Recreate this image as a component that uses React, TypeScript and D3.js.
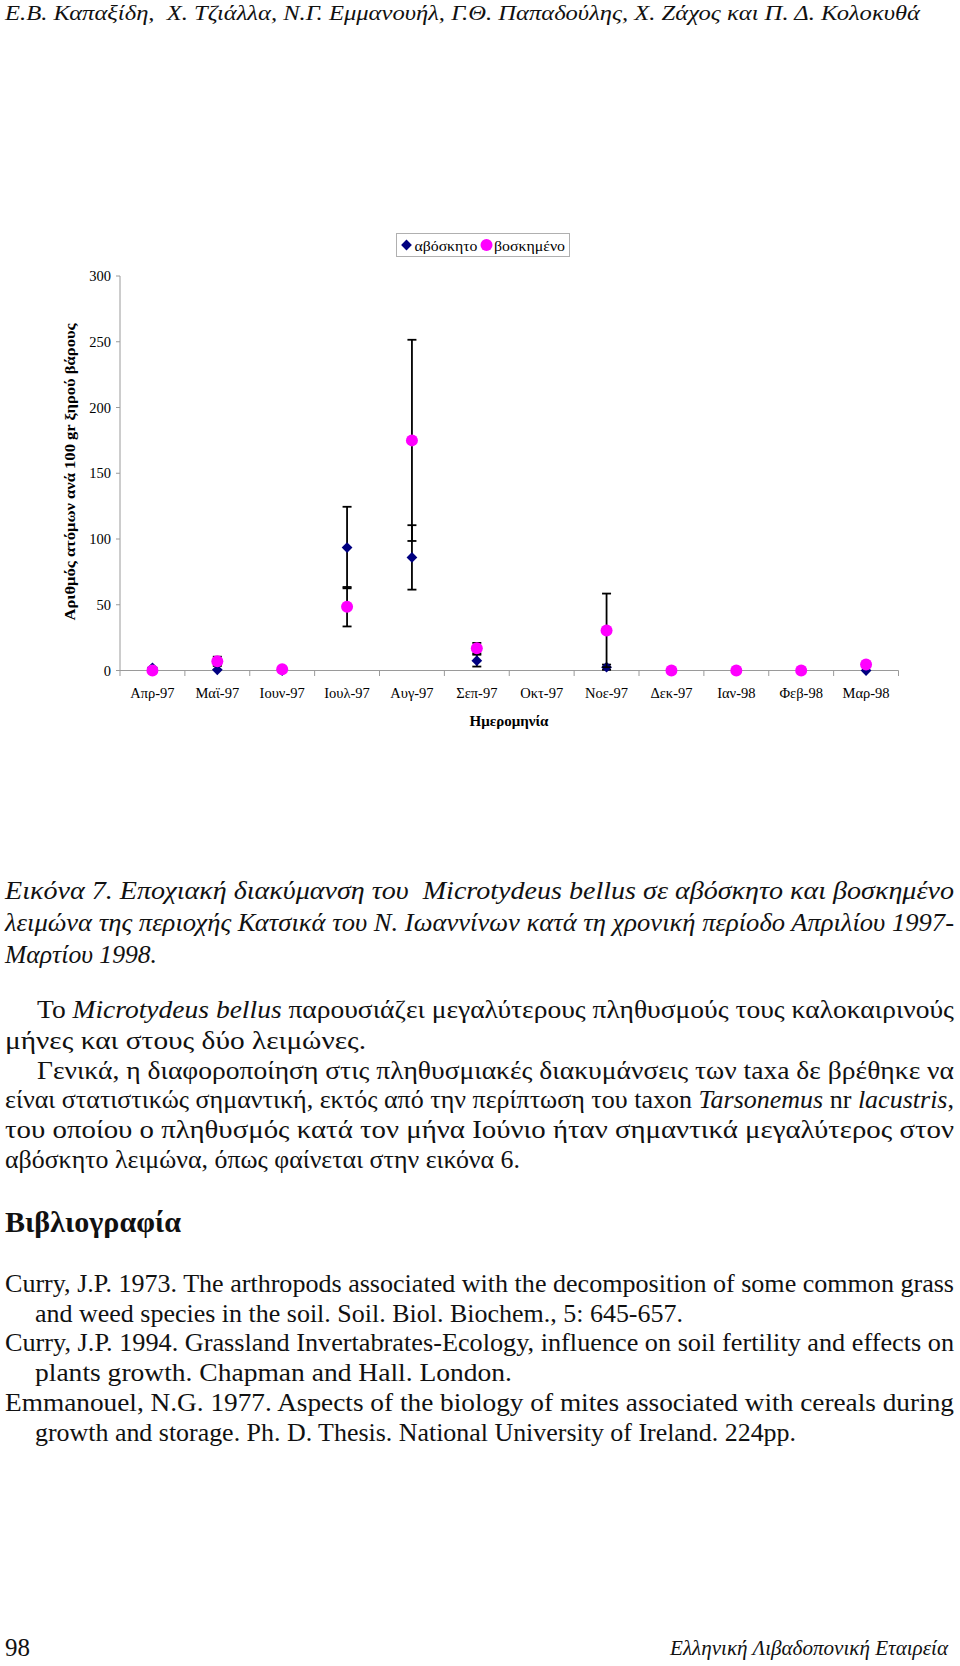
import React from 'react';
import * as d3 from 'd3';

// ---------- chart data ----------
const months = ['Απρ-97', 'Μαϊ-97', 'Ιουν-97', 'Ιουλ-97', 'Αυγ-97', 'Σεπ-97', 'Οκτ-97', 'Νοε-97', 'Δεκ-97', 'Ιαν-98', 'Φεβ-98', 'Μαρ-98'];
const ungrazed: (number | null)[] = [2, 0.5, 0, 93.5, 86, 7.5, null, 2.5, 0, 0, 0, 0];
const ungrazedErr: (number | null)[] = [0, 0, 0, 31, 24.5, 4.5, null, 2, 0, 0, 0, 0];
const grazed: (number | null)[] = [0, 7, 1, 48.5, 175, 17, null, 30.5, 0, 0, 0, 4.5];
const grazedErr: (number | null)[] = [0, 3.5, 0, 15, 76.5, 4, null, 28, 0, 0, 0, 0];
const yTicks = [0, 50, 100, 150, 200, 250, 300];
const seriesNames = ['αβόσκητο', 'βοσκημένο'];

// ---------- page text ----------
type Seg = [string, boolean?];
const headerText = 'Ε.Β. Καπαξίδη,  Χ. Τζιάλλα, Ν.Γ. Εμμανουήλ, Γ.Θ. Παπαδούλης, Χ. Ζάχος και Π. Δ. Κολοκυθά';
const captionLines: Seg[][] = [
  [['Εικόνα 7. Εποχιακή διακύμανση του  Microtydeus bellus σε αβόσκητο και βοσκημένο', true]],
  [['λειμώνα της περιοχής Κατσικά του Ν. Ιωαννίνων κατά τη χρονική περίοδο Απριλίου 1997-', true]],
  [['Μαρτίου 1998.', true]],
];
const paraLines: Seg[][] = [
  [['Το '], ['Microtydeus bellus', true], [' παρουσιάζει μεγαλύτερους πληθυσμούς τους καλοκαιρινούς']],
  [['μήνες και στους δύο λειμώνες.']],
  [['Γενικά, η διαφοροποίηση στις πληθυσμιακές διακυμάνσεις των taxa δε βρέθηκε να']],
  [['είναι στατιστικώς σημαντική, εκτός από την περίπτωση του taxon '], ['Tarsonemus', true], [' nr '], ['lacustris', true], [',']],
  [['του οποίου ο πληθυσμός κατά τον μήνα Ιούνιο ήταν σημαντικά μεγαλύτερος στον']],
  [['αβόσκητο λειμώνα, όπως φαίνεται στην εικόνα 6.']],
];
const bibTitle = 'Βιβλιογραφία';
const refLines = [
  'Curry, J.P. 1973. The arthropods associated with the decomposition of some common grass',
  'and weed species in the soil. Soil. Biol. Biochem., 5: 645-657.',
  'Curry, J.P. 1994. Grassland Invertabrates-Ecology, influence on soil fertility and effects on',
  'plants growth. Chapman and Hall. London.',
  'Emmanouel, N.G. 1977. Aspects of the biology of mites associated with cereals during',
  'growth and storage. Ph. D. Thesis. National University of Ireland. 224pp.',
];
const footerLeft = '98';
const footerRight = 'Ελληνική Λιβαδοπονική Εταιρεία';

const FONT = '"Liberation Serif", "Times New Roman", serif';

function Line({ segs, x, y, w, size = 26, weight = 'normal' }: { segs: Seg[]; x: number; y: number; w: number; size?: number; weight?: string }) {
  return (
    <text x={x} y={y} fontSize={size} fontFamily={FONT} fontWeight={weight} fill="#111" textLength={w} lengthAdjust="spacingAndGlyphs" style={{ whiteSpace: 'pre' }}>
      {segs.map((s, i) => (
        <tspan key={i} fontStyle={s[1] ? 'italic' : 'normal'}>{s[0]}</tspan>
      ))}
    </text>
  );
}

export default function App() {
  const x = d3.scaleBand<string>().domain(months).range([120, 898.5]);
  const y = d3.scaleLinear().domain([0, 300]).range([670.5, 276]);
  const cx = (m: string) => (x(m) as number) + x.bandwidth() / 2;
  const diamond = d3.symbol().type(d3.symbolSquare).size(58)();
  const circle = d3.symbol().type(d3.symbolCircle).size(Math.PI * 36)();
  const axisColor = '#9a9a9a';

  const errBar = (m: string, v: number | null, e: number | null, key: string) => {
    if (v == null || e == null || e <= 0) return null;
    const X = cx(m);
    const top = y(v + e);
    const bot = y(Math.max(0, v - e));
    return (
      <g key={key} stroke="#000" strokeWidth={1.8}>
        <line x1={X} x2={X} y1={top} y2={bot} />
        <line x1={X - 4.5} x2={X + 4.5} y1={top} y2={top} />
        <line x1={X - 4.5} x2={X + 4.5} y1={bot} y2={bot} />
      </g>
    );
  };

  const captionY = [899, 931, 963];
  const paraY = [1018, 1049, 1079, 1108, 1138, 1168];
  const paraX = [37, 5, 37, 5, 5, 5];
  const paraW = [917, 361, 917, 949, 949, 515];
  const refY = [1292, 1322, 1351, 1381, 1411, 1441];
  const refX = [5, 35, 5, 35, 5, 35];
  const refW = [949, 648, 949, 477, 949, 761];

  return (
    <svg width={960} height={1666} style={{ position: 'absolute', left: 0, top: 0, background: '#fff' }}>
      <rect width={960} height={1666} fill="#fff" />
      {/* header */}
      <text x={5} y={20} fontSize={21} fontFamily={FONT} fontStyle="italic" fill="#111" textLength={915} lengthAdjust="spacingAndGlyphs" style={{ whiteSpace: 'pre' }}>{headerText}</text>

      {/* legend */}
      <rect x={396.5} y={233.5} width={173} height={23} fill="#fff" stroke="#b0b0b0" strokeWidth={1} />
      <path d={diamond} transform="translate(406.5,245) rotate(45)" fill="#000080" />
      <text x={414.5} y={250.5} fontSize={15} fontFamily={FONT} fill="#000" textLength={63} lengthAdjust="spacingAndGlyphs">{seriesNames[0]}</text>
      <path d={circle} transform="translate(486.5,245)" fill="#ff00ff" />
      <text x={494} y={250.5} fontSize={15} fontFamily={FONT} fill="#000" textLength={71} lengthAdjust="spacingAndGlyphs">{seriesNames[1]}</text>

      {/* y axis */}
      <line x1={120} x2={120} y1={276} y2={670.5} stroke={axisColor} strokeWidth={1} />
      {yTicks.map((t) => (
        <g key={t}>
          <line x1={116} x2={120} y1={y(t)} y2={y(t)} stroke={axisColor} />
          <text x={111} y={y(t) + 5} fontSize={14.5} fontFamily={FONT} textAnchor="end" fill="#000">{t}</text>
        </g>
      ))}
      {/* x axis */}
      <line x1={120} x2={898.5} y1={670.5} y2={670.5} stroke={axisColor} strokeWidth={1} />
      {months.map((m, i) => (
        <g key={m}>
          <line x1={(x(m) as number) + x.bandwidth()} x2={(x(m) as number) + x.bandwidth()} y1={670.5} y2={676} stroke={axisColor} />
          {i === 0 && <line x1={120} x2={120} y1={670.5} y2={676} stroke={axisColor} />}
          <text x={cx(m)} y={698} fontSize={14.5} fontFamily={FONT} textAnchor="middle" fill="#000">{m}</text>
        </g>
      ))}
      <text x={509} y={726} fontSize={15} fontWeight="bold" fontFamily={FONT} textAnchor="middle" fill="#000">Ημερομηνία</text>
      <text transform="translate(75,472) rotate(-90)" fontSize={15.5} fontWeight="bold" fontFamily={FONT} textAnchor="middle" fill="#000" textLength={297} lengthAdjust="spacingAndGlyphs">Αριθμός ατόμων ανά 100 gr ξηρού βάρους</text>

      {/* series 1: αβόσκητο */}
      {months.map((m, i) => errBar(m, ungrazed[i], ungrazedErr[i], 'ue' + i))}
      {months.map((m, i) =>
        ungrazed[i] == null ? null : (
          <path key={'u' + i} d={diamond} transform={`translate(${cx(m)},${y(ungrazed[i] as number)}) rotate(45)`} fill="#000080" />
        )
      )}
      {/* series 2: βοσκημένο */}
      {months.map((m, i) => errBar(m, grazed[i], grazedErr[i], 'ge' + i))}
      {months.map((m, i) =>
        grazed[i] == null ? null : (
          <path key={'g' + i} d={circle} transform={`translate(${cx(m)},${y(grazed[i] as number)})`} fill="#ff00ff" />
        )
      )}

      {/* caption */}
      {captionLines.map((l, i) => (
        <Line key={'c' + i} segs={l} x={5} y={captionY[i]} w={i === 2 ? 152 : 949} />
      ))}
      {/* paragraphs */}
      {paraLines.map((l, i) => (
        <Line key={'p' + i} segs={l} x={paraX[i]} y={paraY[i]} w={paraW[i]} />
      ))}
      <text x={5} y={1232} fontSize={29} fontWeight="bold" fontFamily={FONT} fill="#111" textLength={176} lengthAdjust="spacingAndGlyphs">{bibTitle}</text>
      {refLines.map((l, i) => (
        <Line key={'r' + i} segs={[[l]]} x={refX[i]} y={refY[i]} w={refW[i]} />
      ))}
      {/* footer */}
      <text x={5} y={1656} fontSize={25} fontFamily={FONT} fill="#111" textLength={25} lengthAdjust="spacingAndGlyphs">{footerLeft}</text>
      <text x={670} y={1655} fontSize={22} fontFamily={FONT} fontStyle="italic" fill="#111" textLength={278} lengthAdjust="spacingAndGlyphs">{footerRight}</text>
    </svg>
  );
}
